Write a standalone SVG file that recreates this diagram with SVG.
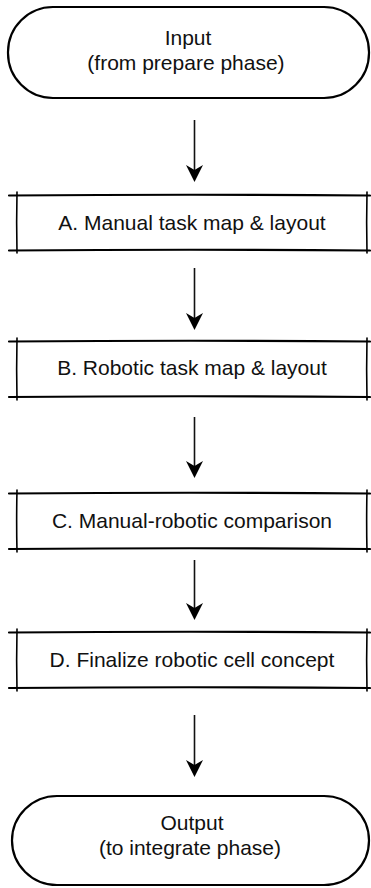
<svg xmlns="http://www.w3.org/2000/svg" width="371" height="888" viewBox="0 0 371 888">
<style>
.t{font-family:"Liberation Sans",Arial,Helvetica,sans-serif;font-size:21px;fill:#111;text-anchor:middle}
.h{stroke:#000;stroke-width:2.2;fill:none;stroke-linecap:round}
.v{stroke:#000;stroke-width:1.6;fill:none;stroke-linecap:round}
.term{fill:#fff;stroke:#000;stroke-width:2.2}
.wire{stroke:#111;stroke-width:1.6;fill:none}
.head{fill:#000}
</style>
<rect width="371" height="888" fill="#fff"/>
<g id="input">
<rect class="term" x="8" y="7" width="361" height="91" rx="45" ry="45"/>
<text class="t" x="188" y="45">Input</text>
<text class="t" x="186" y="70">(from prepare phase)</text>
</g>
<g id="boxA">
<path class="h" d="M9,195.5 Q190,194 370,195.5"/>
<path class="h" d="M9,250.5 Q190,249 370,250.5"/>
<path class="v" d="M17,192 Q16.3,222 17,253"/>
<path class="v" d="M367,192 Q366.3,222 367,253"/>
<text class="t" x="192" y="230">A. Manual task map &amp; layout</text>
</g>
<g id="boxB">
<path class="h" d="M9,341.5 Q190,340 370,341.5"/>
<path class="h" d="M9,397 Q190,395.5 370,397"/>
<path class="v" d="M17,338 Q16.3,369 17,400"/>
<path class="v" d="M367,338 Q366.3,369 367,400"/>
<text class="t" x="192" y="375">B. Robotic task map &amp; layout</text>
</g>
<g id="boxC">
<path class="h" d="M9,493.5 Q190,492 370,493.5"/>
<path class="h" d="M9,549 Q190,547.5 370,549"/>
<path class="v" d="M17,490 Q16.3,521 17,552"/>
<path class="v" d="M367,490 Q366.3,521 367,552"/>
<text class="t" x="192" y="528">C. Manual-robotic comparison</text>
</g>
<g id="boxD">
<path class="h" d="M9,632.5 Q190,631 370,632.5"/>
<path class="h" d="M9,688 Q190,686.5 370,688"/>
<path class="v" d="M17,629 Q16.3,660 17,691"/>
<path class="v" d="M367,629 Q366.3,660 367,691"/>
<text class="t" x="192" y="667">D. Finalize robotic cell concept</text>
</g>
<g id="output">
<rect class="term" x="12" y="796" width="357" height="89" rx="45" ry="45"/>
<text class="t" x="192" y="830">Output</text>
<text class="t" x="190" y="855">(to integrate phase)</text>
</g>
<g id="connectors">
<line class="wire" x1="194.5" y1="120" x2="194.5" y2="172"/>
<path class="head" d="M194.5,182 L186,165 L194.5,170 L203,165Z"/>
<line class="wire" x1="194.5" y1="268" x2="194.5" y2="320"/>
<path class="head" d="M194.5,330 L186,313 L194.5,318 L203,313Z"/>
<line class="wire" x1="194.5" y1="417" x2="194.5" y2="468"/>
<path class="head" d="M194.5,478 L186,461 L194.5,466 L203,461Z"/>
<line class="wire" x1="194.5" y1="560" x2="194.5" y2="610"/>
<path class="head" d="M194.5,620 L186,603 L194.5,608 L203,603Z"/>
<line class="wire" x1="194.5" y1="715" x2="194.5" y2="767"/>
<path class="head" d="M194.5,777 L186,760 L194.5,765 L203,760Z"/>
</g>
</svg>
